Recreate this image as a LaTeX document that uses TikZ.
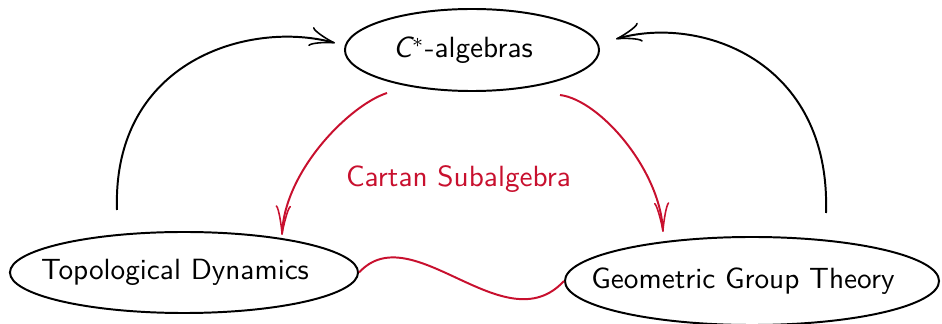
\documentclass[tikz,border=0pt]{standalone}
\usetikzlibrary{arrows.meta,shapes.geometric}
\definecolor{cartan}{RGB}{200,16,46}
\begin{document}
\begin{tikzpicture}[x=0.0125cm,y=-0.0125cm,
  font=\sffamily\fontsize{10.4}{12}\selectfont,
  every path/.style={line width=0.7pt},
  topic/.style={ellipse,draw,inner sep=0pt,line width=0.7pt},
  blackarrow/.style={-{Classical TikZ Rightarrow[length=9pt,width=7pt]}},
  redarrow/.style={cartan,-{Classical TikZ Rightarrow[length=10.5pt,width=5.5pt]}}]
\useasboundingbox (0,0) rectangle (942,324);
\node[topic,minimum width=3.175cm,minimum height=1.025cm] (C) at (472,50)
  {\makebox[0pt]{{\slshape C}$^{*}$-algebras\hspace*{6.4pt}}};
\node[topic,minimum width=4.35cm,minimum height=1.0125cm] (TD) at (184,272.5)
  {\makebox[0pt]{Topological Dynamics\hspace*{6.4pt}}};
\node[topic,minimum width=4.675cm,minimum height=1.1cm] (GGT) at (752,281)
  {\makebox[0pt]{Geometric Group Theory\hspace*{6.4pt}}};
\node[text=cartan] (lab) at (458.5,179) {Cartan Subalgebra};
\coordinate (la) at (117,210);
\coordinate (lb) at (335,43);
\coordinate (ra) at (826,213);
\coordinate (rb) at (616,39);
\coordinate (ca) at (387,93);
\coordinate (cat) at (282,235);
\coordinate (cb) at (560,95);
\coordinate (cbt) at (663,232);
\draw[blackarrow] (la) .. controls (112,60) and (250,20) .. (lb);
\draw[blackarrow] (ra) .. controls (831,60) and (700,15) .. (rb);
\draw[redarrow] (ca) .. controls (350,105) and (285,170) .. (cat);
\draw[redarrow] (cb) .. controls (600,100) and (660,170) .. (cbt);
\draw[cartan] (TD.east) .. controls (412,215) and (505,345) .. (GGT.west);
\end{tikzpicture}
\end{document}
